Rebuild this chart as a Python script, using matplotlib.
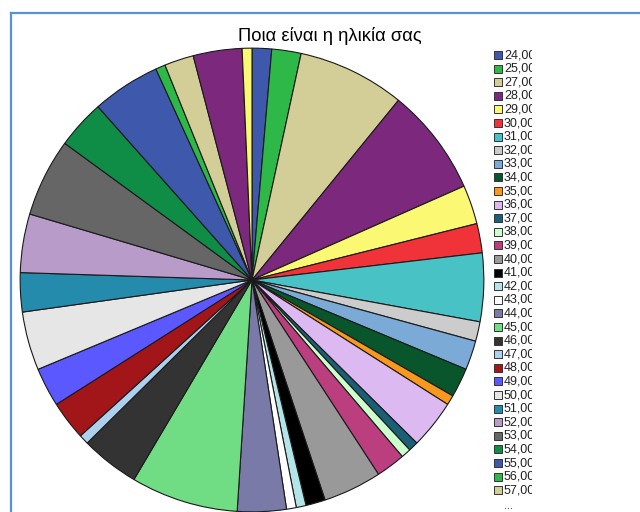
import matplotlib.pyplot as plt
from matplotlib.patches import Rectangle
from matplotlib.lines import Line2D

plt.rcParams['font.family'] = ['Liberation Sans', 'DejaVu Sans']

# age categories and respondent counts (pie runs clockwise from 12 o'clock)
ages = ["24,00", "25,00", "27,00", "28,00", "29,00", "30,00", "31,00", "32,00",
        "33,00", "34,00", "35,00", "36,00", "37,00", "38,00", "39,00", "40,00",
        "41,00", "42,00", "43,00", "44,00", "45,00", "46,00", "47,00", "48,00",
        "49,00", "50,00", "51,00", "52,00", "53,00", "54,00", "55,00", "56,00",
        "57,00", "58,00", "59,00"]
counts = [2, 3, 11, 11, 4, 3, 7, 2,
          3, 3, 1, 5, 1, 1, 3, 6,
          2, 1, 1, 5, 11, 6, 1, 4,
          4, 6, 4, 6, 8, 5, 7, 1,
          3, 5, 1]
legend_shown = 33  # the rest is cut off behind "..."

# SPSS default category palette (30 colours, then repeats)
palette = ["#3E58AC", "#2EB848", "#D3CE97", "#7C287D", "#FBF873", "#EF3338",
           "#48C2C5", "#CCCCCC", "#7AAAD5", "#0A562C", "#F8981D", "#DDB9F1",
           "#1A5F76", "#CCFFCC", "#BB3F7F", "#999999", "#000000", "#B3E4E8",
           "#FFFFFF", "#797AA7", "#70DC84", "#333333", "#ACD0EE", "#A21619",
           "#5B58FF", "#E6E6E6", "#248BAC", "#B89BC9", "#666666", "#0F8C45"]
colors = [palette[i % len(palette)] for i in range(len(ages))]

W, H = 640, 512
fig = plt.figure(figsize=(W / 100, H / 100), dpi=100)

# pie axes placed in pixel terms: centre (252, 280), radius 233
cx, cy, r = 252, 280, 233
ax = fig.add_axes([(cx - r) / W, (H - (cy + r)) / H, 2 * r / W, 2 * r / H])
ax.pie(counts, colors=colors, startangle=90, counterclock=False, radius=1,
       wedgeprops=dict(edgecolor="#1a1a1a", linewidth=0.8))
ax.set_xlim(-1.005, 1.005)
ax.set_ylim(-1.005, 1.005)
ax.set_aspect("equal")
ax.axis("off")

fig.text(330 / W, 1 - 36 / H, "Ποια είναι η ηλικία σας", ha="center", va="center",
         fontsize=13.2, color="#000000")

# legend column, clipped on the right
x0, x1 = 490, 531.5
lax = fig.add_axes([x0 / W, 0, (x1 - x0) / W, 1])
lax.set_xlim(x0, x1)
lax.set_ylim(H, 0)
lax.axis("off")
y_first, step = 55, 13.6
for i in range(legend_shown):
    y = y_first + i * step
    lax.add_patch(Rectangle((494, y - 4), 8, 8, facecolor=colors[i],
                            edgecolor="#333333", linewidth=0.7, clip_on=False))
    lax.text(504, y, ages[i], fontsize=9, va="center", ha="left",
             color="#222222", clip_on=True)
lax.text(509, y_first + legend_shown * step + 2, "...", fontsize=8,
         va="center", ha="center", color="#222222")

# outer frame (top and left edges visible)
fc = "#5B8FD6"
fig.add_artist(Line2D([10.5 / W, 10.5 / W], [0, 1 - 12.5 / H], color=fc,
                      linewidth=1.6, transform=fig.transFigure))
fig.add_artist(Line2D([10.5 / W, 1], [1 - 12.5 / H, 1 - 12.5 / H], color=fc,
                      linewidth=1.6, transform=fig.transFigure))

fig.savefig("out.png", dpi=100)
